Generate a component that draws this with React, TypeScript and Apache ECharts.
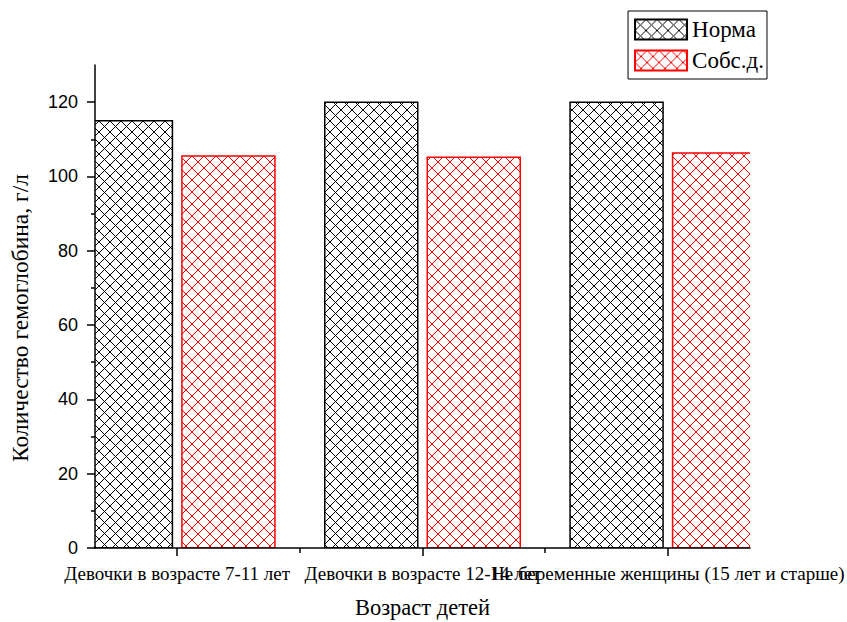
import React, { useEffect, useRef } from "react";
import * as echarts from "echarts";

const categories = [
  "Девочки в возрасте 7-11 лет",
  "Девочки в возрасте 12-14 лет",
  "Не беременные женщины (15 лет и старше)",
];
const categoryPositions = [1, 2, 3];
const normaValues = [115, 120, 120];
const sobsValues = [105.5, 105.2, 106.3];
const seriesNames = ["Норма", "Собс.д."];
const yMajorTicks = [0, 20, 40, 60, 80, 100, 120];
const yMinorTicks = [10, 30, 50, 70, 90, 110];
const xMinorTicks = [1.5, 2.5];

function makeHatch(color: string, size: number) {
  const c = document.createElement("canvas");
  c.width = size;
  c.height = size;
  const ctx = c.getContext("2d")!;
  ctx.fillStyle = "#ffffff";
  ctx.fillRect(0, 0, size, size);
  ctx.strokeStyle = color;
  ctx.lineWidth = 1;
  ctx.beginPath();
  ctx.moveTo(0, 0);
  ctx.lineTo(size, size);
  ctx.moveTo(size, 0);
  ctx.lineTo(0, size);
  ctx.stroke();
  return c;
}

const BAR_W = 93;
const BAR_GAP = 9.5;

export default function App() {
  const ref = useRef<HTMLDivElement>(null);
  useEffect(() => {
    if (!ref.current) return;
    const chart = echarts.init(ref.current, null, { renderer: "svg" });
    const blackHatch = { image: makeHatch("#000000", 11), repeat: "repeat" };
    const redHatch = { image: makeHatch("#ff0000", 12), repeat: "repeat" };
    const serif = "'Liberation Serif', 'Times New Roman', serif";
    const sans = "'Liberation Sans', Arial, sans-serif";

    const makeRender = (offset: number, fill: any, stroke: string) =>
      (params: any, api: any) => {
        const pos = api.value(0);
        const val = api.value(1);
        const base = api.coord([pos, 0]);
        const top = api.coord([pos, val]);
        return {
          type: "rect",
          shape: {
            x: base[0] + offset - BAR_W / 2,
            y: top[1],
            width: BAR_W,
            height: base[1] - top[1],
          },
          style: { fill, stroke, lineWidth: 1.5 },
        };
      };
    const off = (BAR_W + BAR_GAP) / 2;
    const catLabel = {
      margin: 16,
      fontFamily: serif,
      fontSize: 19,
      color: "#000",
      hideOverlap: false,
      formatter: (v: number) => categories[Math.round(v) - 1] ?? "",
    };

    chart.setOption({
      animation: false,
      backgroundColor: "#ffffff",
      grid: { left: 95, right: 97, top: 65, bottom: 74, containLabel: false, outerBoundsMode: "none" },
      legend: {
        orient: "vertical",
        right: 80,
        top: 11,
        data: seriesNames,
        itemWidth: 52,
        itemHeight: 20,
        itemGap: 8,
        padding: [7, 3, 7, 6],
        borderColor: "#000",
        borderWidth: 1,
        textStyle: { fontFamily: serif, fontSize: 23, color: "#000" },
        icon: "rect",
      },
      xAxis: [
        {
          type: "value",
          min: 0.665,
          max: 3.335,
          name: "Возраст детей",
          nameLocation: "middle",
          nameGap: 48,
          nameMoveOverlap: false,
          nameTextStyle: { fontFamily: serif, fontSize: 22.5, color: "#000" },
          axisLine: { show: true, onZero: false, lineStyle: { color: "#000", width: 1.5 } },
          axisTick: { show: true, length: 8, customValues: categoryPositions, lineStyle: { color: "#000", width: 1.5 } },
          axisLabel: { ...catLabel, customValues: [1, 2] },
          splitLine: { show: false },
          z: 10,
        },
        {
          type: "value",
          min: 0.665,
          max: 3.335,
          position: "bottom",
          axisLine: { show: false, onZero: false },
          axisTick: { show: true, length: 5, customValues: xMinorTicks, lineStyle: { color: "#000", width: 1.5 } },
          axisLabel: { ...catLabel, customValues: [3] },
          splitLine: { show: false },
          z: 10,
        },
      ],
      yAxis: [
        {
          type: "value",
          min: 0,
          max: 130,
          interval: 20,
          axisLine: { show: true, lineStyle: { color: "#000", width: 1.5 } },
          axisTick: { show: true, length: 8, customValues: yMajorTicks, lineStyle: { color: "#000", width: 1.5 } },
          axisLabel: { customValues: yMajorTicks, margin: 17, fontFamily: sans, fontSize: 18, color: "#000" },
          splitLine: { show: false },
          z: 10,
        },
        {
          type: "value",
          min: 0,
          max: 130,
          position: "left",
          axisLine: { show: false },
          axisTick: { show: true, length: 4, customValues: yMinorTicks, lineStyle: { color: "#000", width: 1.5 } },
          axisLabel: { show: false },
          splitLine: { show: false },
        },
      ],
      graphic: [
        {
          type: "text",
          x: 20,
          y: 318,
          rotation: Math.PI / 2,
          style: {
            text: "Количество гемоглобина, г/л",
            fontFamily: serif,
            fontSize: 23.5,
            fill: "#000",
            align: "center",
            verticalAlign: "middle",
          },
        },
      ],
      series: [
        {
          name: seriesNames[0],
          type: "custom",
          xAxisIndex: 0,
          yAxisIndex: 0,
          clip: true,
          data: categoryPositions.map((p, i) => [p, normaValues[i]]),
          encode: { x: 0, y: 1 },
          itemStyle: { color: blackHatch, borderColor: "#000", borderWidth: 1.5 },
          renderItem: makeRender(-off, blackHatch, "#000"),
        },
        {
          name: seriesNames[1],
          type: "custom",
          xAxisIndex: 0,
          yAxisIndex: 0,
          clip: true,
          data: categoryPositions.map((p, i) => [p, sobsValues[i]]),
          encode: { x: 0, y: 1 },
          itemStyle: { color: redHatch, borderColor: "#ff0000", borderWidth: 1.5 },
          renderItem: makeRender(off, redHatch, "#ff0000"),
        },
      ],
    });
    return () => chart.dispose();
  }, []);
  return (
    <div
      ref={ref}
      style={{ position: "fixed", left: 0, top: 0, width: 847, height: 622, background: "#fff" }}
    />
  );
}
